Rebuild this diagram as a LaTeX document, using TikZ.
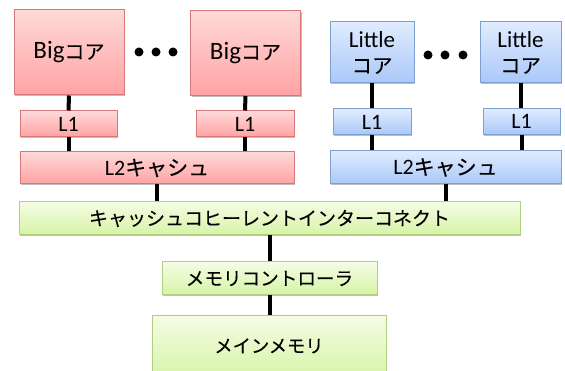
\documentclass[tikz,border=0pt]{standalone}
\usepackage{fontspec}
\setmainfont{Carlito}
\newfontfamily\jpf[FakeBold=0.15]{Noto Sans CJK JP}
\newcommand{\J}[2]{{\jpf\fontsize{#1}{#1}\selectfont #2}}
\usetikzlibrary{shadows}
\definecolor{rtop}{HTML}{FFD8D8}
\definecolor{rbot}{HTML}{FFA3A3}
\definecolor{rbrd}{HTML}{D67878}
\definecolor{btop}{HTML}{E0ECFF}
\definecolor{bbot}{HTML}{A9C8F8}
\definecolor{bbrd}{HTML}{7EA0CF}
\definecolor{gtop}{HTML}{F4FCE4}
\definecolor{gbot}{HTML}{D6F4A6}
\definecolor{gbrd}{HTML}{B0CF80}
\tikzset{
  box/.style={rectangle, inner sep=0pt, align=center, line width=1pt,
    drop shadow={shadow xshift=1.2pt, shadow yshift=-1.5pt, opacity=0.25, fill=black}},
  redbox/.style={box, draw=rbrd, top color=rtop, bottom color=rbot},
  bluebox/.style={box, draw=bbrd, top color=btop, bottom color=bbot},
  greenbox/.style={box, draw=gbrd, top color=gtop, bottom color=gbot},
  wire/.style={line width=4pt, black},
  dotmark/.style={fill=black, draw=none}
}
\begin{document}
\begin{tikzpicture}[x=1pt, y=-1pt]
\clip (0,0) rectangle (565,371);
% Big cores
\node[redbox, minimum width=110pt, minimum height=85pt, font=\fontsize{25}{28}\selectfont] (big1) at (69,52.5) {Big\J{20}{コア}};
\node[redbox, minimum width=110pt, minimum height=85pt, font=\fontsize{25}{28}\selectfont] (big2) at (245.5,53) {Big\J{20}{コア}};
\node[redbox, minimum width=97pt, minimum height=26pt, font=\fontsize{22}{26}\selectfont] (bl1a) at (68.5,124) {L1};
\node[redbox, minimum width=98pt, minimum height=26pt, font=\fontsize{22}{26}\selectfont] (bl1b) at (245,124) {L1};
\node[redbox, minimum width=274pt, minimum height=32pt, font=\fontsize{22}{26}\selectfont] (bl2) at (157,168) {L2\J{21}{キャシュ}};
% Little cores
\node[bluebox, minimum width=84pt, minimum height=61pt, font=\fontsize{23}{24}\selectfont] (lc1) at (372,52.5) {\raisebox{1pt}{Little}\\[1pt]\J{20.5}{コア}};
\node[bluebox, minimum width=81pt, minimum height=61pt, font=\fontsize{23}{24}\selectfont] (lc2) at (520.5,52.5) {\raisebox{1pt}{Little}\\[1pt]\J{20.5}{コア}};
\node[bluebox, minimum width=78pt, minimum height=26pt, font=\fontsize{22}{26}\selectfont] (ll1a) at (372,122) {L1};
\node[bluebox, minimum width=77pt, minimum height=26pt, font=\fontsize{22}{26}\selectfont] (ll1b) at (521.5,121.5) {L1};
\node[bluebox, minimum width=231pt, minimum height=33pt, font=\fontsize{22}{26}\selectfont] (ll2) at (445.5,167.5) {L2\J{21}{キャシュ}};
% Shared
\node[greenbox, minimum width=501pt, minimum height=33pt] (ic) at (269.5,218.5) {\J{19}{キャッシュコヒーレントインターコネクト}};
\node[greenbox, minimum width=215pt, minimum height=33pt] (mc) at (269.5,278.5) {\J{18.6}{メモリコントローラ}};
\node[greenbox, minimum width=234pt, minimum height=64pt] (mm) at (269,348) {\raisebox{5pt}{\J{18.3}{メインメモリ}}};
% connectors
\draw[wire] (big1.south) -- (bl1a.north);
\draw[wire] (big2.south) -- (bl1b.north);
\draw[wire] (bl1a.south) -- (bl1a.south |- bl2.north);
\draw[wire] (bl1b.south) -- (bl1b.south |- bl2.north);
\draw[wire] (bl2.south) -- (bl2.south |- ic.north);
\draw[wire] (lc1.south) -- (lc1.south |- ll1a.north);
\draw[wire] (lc2.south) -- (lc2.south |- ll1b.north);
\draw[wire] (ll1a.south) -- (ll1a.south |- ll2.north);
\draw[wire] (ll1b.south) -- (ll1b.south |- ll2.north);
\draw[wire] (ll2.south) -- (ll2.south |- ic.north);
\draw[wire] (ic.south) -- (ic.south |- mc.north);
\draw[wire] (mc.south) -- (mc.south |- mm.north);
% ellipsis dots
\foreach \x in {139,156,173} \fill[dotmark] (\x,52) circle (4.5pt);
\foreach \x in {428,445,463} \fill[dotmark] (\x,55) circle (4.5pt);
\end{tikzpicture}
\end{document}
